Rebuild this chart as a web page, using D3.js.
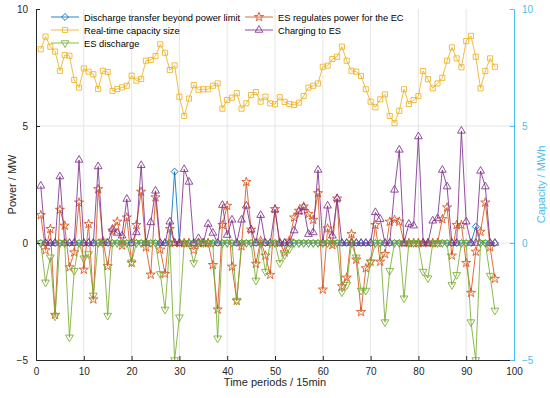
<!DOCTYPE html>
<html>
<head>
<meta charset="utf-8">
<script src="https://cdn.jsdelivr.net/npm/d3@7"></script>
<style>
  body { margin: 0; background: #fff; }
  svg { font-family: "Liberation Sans", Arial, sans-serif; }
</style>
</head>
<body>
<div id="chart"></div>
<script>
// time periods 1..96 (15 min)
const periods = d3.range(1, 97);

const beyondLimit = periods.map(p => p === 29 ? 3.05 : (p === 92 ? 0.70 : 0));

const regulates = [
  1.19, -0.31, 0.60, -3.07, 1.42, 0.74, -1.04, -0.40, 1.73, -1.14,
  0.81, -2.41, 2.30, 0.1, -0.99, 0.53, 0.91, -0.11, 1.09, -0.85,
  0.77, 2.19, -0.18, -1.35, 1.95, -0.28, -1.32, 0.60, 0, 0,
  0, 0, -0.3, 0, 0, 0, -0.94, -2.84, 0.77, 1.59,
  -1.01, -2.47, -0.14, 2.61, 0.57, -0.89, 0.1, -0.54, -1.36, 1.45,
  0, -0.40, 0.1, 1.09, 1.38, 1.56, 1.24, 0.99, 2.13, -1.99,
  0.62, -0.09, 1.90, -1.85, -1.48, 0.38, -0.71, -2.95, -1.08, -0.80,
  0.77, -0.80, -0.47, 0.91, 0.99, 0.91, 0, 0, 0, 0,
  0, 0, 0, 0, 1.02, 1.52, -0.54, 0.77, 0.77, -0.85,
  -2.13, -0.37, 0.48, 1.73, -0.18, -1.53
];

const capacity = [
  8.28, 8.82, 8.39, 8.18, 7.36, 8.03, 8.00, 6.97, 6.64, 7.46,
  7.32, 7.21, 6.58, 7.36, 7.31, 6.50, 6.58, 6.65, 6.72, 7.15,
  6.94, 7.01, 7.79, 7.82, 7.99, 8.49, 8.13, 7.39, 7.59, 6.25,
  5.43, 6.17, 6.75, 6.55, 6.57, 6.57, 6.72, 6.82, 5.74, 6.11,
  6.21, 6.40, 5.74, 5.97, 6.32, 6.45, 6.04, 6.25, 5.97, 5.93,
  6.23, 6.03, 5.94, 5.90, 6.00, 6.28, 6.64, 6.72, 6.82, 7.53,
  7.58, 7.86, 7.96, 8.39, 7.79, 7.36, 7.32, 7.14, 6.57, 6.04,
  5.80, 6.14, 6.35, 5.43, 5.12, 5.65, 6.57, 5.94, 6.11, 6.28,
  7.35, 7.00, 6.61, 6.82, 7.06, 7.79, 8.36, 7.89, 7.51, 8.63,
  8.85, 7.96, 6.61, 7.35, 7.89, 7.53
];

const charging = [
  2.44, 0, 0, 0, 2.84, 0, 0, 0, 3.55, 0,
  0, 0, 3.27, 0, 0, 0.60, 0.43, 0.31, 1.88, 0,
  0.45, 3.32, 0, 0.88, 2.23, 0, 0, 0.91, 0, 0,
  3.15, 2.61, 0, 0.2, 0, 0.81, 0.43, 0, 1.62, 0.34,
  0.99, 0, 0.99, 1.59, 0.57, 0, 1.19, 0, 0, 1.42,
  0, 0, 0, 0.53, 1.34, 1.52, 0.38, 0.45, 3.12, 0,
  1.59, 0.31, 1.90, 0, 0, 0, 0, 0, 0, 0,
  1.31, 1.02, 0, 0, 2.27, 3.98, 0, 0.81, 0.74, 4.55,
  0, 0, 0.95, 1.05, 3.12, 2.41, 0, 0, 4.79, 0.91,
  0, 0, 3.08, 2.41, 0, 0
];

const discharge = [
  0, -1.68, -0.61, -3.13, 0, 0, -4.03, -1.18, 0, -0.65,
  -0.47, -2.24, 0, 0, -3.10, 0, 0, 0, 0, -0.82,
  0, 0, 0, 0, 0, -1.32, -2.84, 0, -5.0, -3.17,
  0, 0, -0.85, 0, 0, 0, 0, -4.07, 0, 0,
  0, -2.46, 0, 0, 0, -1.60, 0, -1.22, 0, 0,
  -0.85, -0.51, -0.26, 0, 0, 0, 0, 0, 0, 0,
  0, 0, 0, -2.10, -1.79, 0, -0.61, -2.03, -2.03, -0.82,
  0, 0, -3.38, -1.18, 0, 0, -2.36, 0, 0, 0,
  -1.22, -1.50, 0, 0, 0, 0, -1.79, -1.36, 0, 0,
  -3.38, -5.0, 0, 0, -1.39, -2.88
];

const xTicks = d3.range(0, 101, 10);
const yTicks = [-5, 0, 5, 10];

const series = [
  { name: "Discharge transfer beyond power limit", values: beyondLimit, color: "#0072BD", sym: "diamond" },
  { name: "ES regulates power for the EC", values: regulates, color: "#D95319", sym: "star" },
  { name: "Real-time capacity size", values: capacity, color: "#EDB120", sym: "square" },
  { name: "Charging to ES", values: charging, color: "#7E2F8E", sym: "triUp" },
  { name: "ES discharge", values: discharge, color: "#77AC30", sym: "triDown" }
];

const width = 550, height = 398;
const margin = { top: 9, right: 36, bottom: 38, left: 36 };

const x = d3.scaleLinear().domain([0, 100]).range([margin.left, width - margin.right]);
const y = d3.scaleLinear().domain([-5, 10]).range([height - margin.bottom, margin.top]);
const yR = d3.scaleLinear().domain([-5, 10]).range([height - margin.bottom, margin.top]);

const svg = d3.select("#chart").append("svg")
  .attr("width", width)
  .attr("height", height);

// grid
const gridG = svg.append("g").attr("class", "grid");
gridG.selectAll(".vg").data(xTicks.slice(1, -1)).join("line")
  .attr("x1", d => x(d)).attr("x2", d => x(d))
  .attr("y1", y(-5)).attr("y2", y(10))
  .attr("stroke", "#e6e6e6").attr("stroke-width", 1);
gridG.selectAll(".hg").data(yTicks.slice(1, -1)).join("line")
  .attr("x1", x(0)).attr("x2", x(100))
  .attr("y1", d => y(d)).attr("y2", d => y(d))
  .attr("stroke", "#e6e6e6").attr("stroke-width", 1);

svg.append("clipPath").attr("id", "plotClip")
  .append("rect")
  .attr("x", x(0)).attr("y", y(10) - 6)
  .attr("width", x(100) - x(0)).attr("height", y(-5) - y(10) + 6);

const symbolPath = (sym) => {
  switch (sym) {
    case "diamond": return d3.symbol(d3.symbolSquare, 24)();
    case "star": return d3.symbol(d3.symbolStar, 26)();
    case "square": return d3.symbol(d3.symbolSquare, 26)();
    default: return d3.symbol(d3.symbolTriangle, 26)();
  }
};
const symbolRot = (sym) => sym === "diamond" ? 45 : (sym === "triDown" ? 180 : 0);

const plotG = svg.append("g").attr("clip-path", "url(#plotClip)");
const line = d3.line().x((d, i) => x(periods[i])).y(d => y(d));

series.forEach(s => {
  const g = plotG.append("g").attr("class", "series");
  g.append("path")
    .datum(s.values)
    .attr("d", line)
    .attr("fill", "none")
    .attr("stroke", s.color)
    .attr("stroke-width", 0.85);
  g.selectAll("path.mk").data(s.values).join("path")
    .attr("class", "mk")
    .attr("d", symbolPath(s.sym))
    .attr("transform", (d, i) => `translate(${x(periods[i])},${y(d)}) rotate(${symbolRot(s.sym)})`)
    .attr("fill", "none")
    .attr("stroke", s.color)
    .attr("stroke-width", 0.85);
});

// axes
const axisG = svg.append("g").attr("class", "axes");
const xAxis = axisG.append("g")
  .attr("transform", `translate(0,${y(-5)})`)
  .call(d3.axisBottom(x).tickValues(xTicks).tickSizeInner(-4).tickSizeOuter(0).tickPadding(8));
const yAxis = axisG.append("g")
  .attr("transform", `translate(${x(0)},0)`)
  .call(d3.axisLeft(y).tickValues(yTicks).tickSizeInner(-4).tickSizeOuter(0).tickPadding(8));
const yAxisR = axisG.append("g")
  .attr("transform", `translate(${x(100)},0)`)
  .call(d3.axisRight(yR).tickValues(yTicks).tickSizeInner(-4).tickSizeOuter(0).tickPadding(8));

[xAxis, yAxis].forEach(a => {
  a.selectAll("path, line").attr("stroke", "#262626");
  a.selectAll("text").attr("fill", "#262626").style("font-size", "10px");
});
yAxisR.selectAll("path, line").attr("stroke", "#4DBEEE");
yAxisR.selectAll("text").attr("fill", "#4DBEEE").style("font-size", "10px");

// axis titles
svg.append("text")
  .attr("x", (x(0) + x(100)) / 2).attr("y", 386)
  .attr("text-anchor", "middle")
  .style("font-size", "11px").attr("fill", "#262626")
  .text("Time periods / 15min");
svg.append("text")
  .attr("transform", `translate(16,${(y(-5) + y(10)) / 2}) rotate(-90)`)
  .attr("text-anchor", "middle")
  .style("font-size", "11px").attr("fill", "#262626")
  .text("Power / MW");
svg.append("text")
  .attr("transform", `translate(545,${(y(-5) + y(10)) / 2}) rotate(-90)`)
  .attr("text-anchor", "middle")
  .style("font-size", "11px").attr("fill", "#4DBEEE")
  .text("Capacity / MWh");

// legend (2 columns, row-wise)
const legendG = svg.append("g").attr("class", "legend");
series.forEach((s, i) => {
  const col = i % 2, row = Math.floor(i / 2);
  const lx = col === 0 ? 51 : 245;
  const ly = 17 + row * 13;
  const item = legendG.append("g").attr("transform", `translate(${lx},${ly})`);
  item.append("line").attr("x1", 0).attr("x2", 28).attr("y1", 0).attr("y2", 0)
    .attr("stroke", s.color).attr("stroke-width", 0.85);
  item.append("path")
    .attr("d", symbolPath(s.sym))
    .attr("transform", `translate(14,0) rotate(${symbolRot(s.sym)})`)
    .attr("fill", "none").attr("stroke", s.color).attr("stroke-width", 0.85);
  item.append("text").attr("x", 33).attr("y", 3.5)
    .style("font-size", "9.3px").attr("fill", "#000")
    .text(s.name);
});
</script>
</body>
</html>
